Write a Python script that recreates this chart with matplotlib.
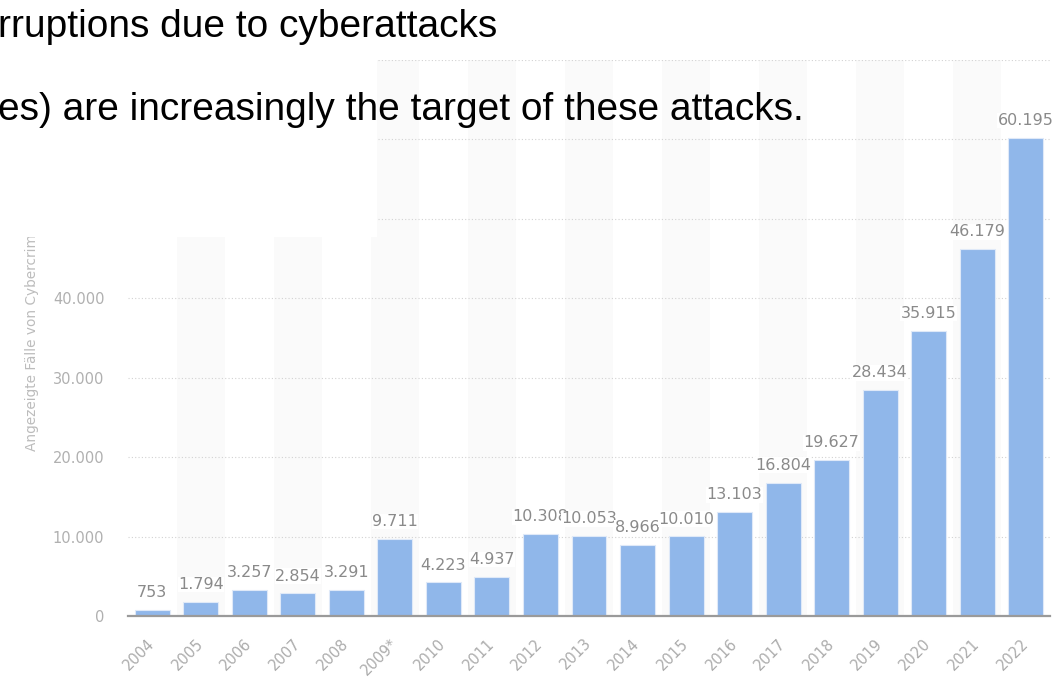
import matplotlib.pyplot as plt
from matplotlib.patches import Rectangle

# Data
years = ["2004", "2005", "2006", "2007", "2008", "2009*", "2010", "2011", "2012",
         "2013", "2014", "2015", "2016", "2017", "2018", "2019", "2020", "2021", "2022"]
cases = [753, 1794, 3257, 2854, 3291, 9711, 4223, 4937, 10308,
         10053, 8966, 10010, 13103, 16804, 19627, 28434, 35915, 46179, 60195]
yticks = [0, 10000, 20000, 30000, 40000, 50000, 60000, 70000]

def de_fmt(v):
    return f"{v:,}".replace(",", ".")

W, H = 1063, 677
fig = plt.figure(figsize=(W / 100, H / 100), dpi=100)
ax = fig.add_axes([128 / W, 61 / H, 922 / W, 556 / H])

x = list(range(len(years)))

# alternating light bands behind every second year
for i in x:
    if i % 2 == 1:
        ax.axvspan(i - 0.5, i + 0.5, color="#fafafa", zorder=0, lw=0)

bars = ax.bar(x, cases, width=0.72, color="#90b7ea", edgecolor="#dfe9f8",
              linewidth=0.8, zorder=3)
# white label boxes: later labels cover earlier ones where they touch
ax.bar_label(bars, labels=[de_fmt(v) for v in cases], padding=7, fontsize=11.5,
             color="#8a8a8a",
             bbox=dict(facecolor="white", edgecolor="none", pad=0.2))

ax.set_xlim(-0.5, 18.5)
ax.set_ylim(0, 70000)
ax.set_yticks(yticks)
ax.set_yticklabels([de_fmt(v) for v in yticks])
ax.set_xticks(x)
ax.set_xticklabels(years, rotation=45, ha="right", va="center", rotation_mode="anchor")

ax.yaxis.grid(True, linestyle=(0, (1, 2)), color="#d2d2d2", linewidth=0.8, zorder=1)
ax.set_axisbelow(True)
for s in ["top", "right", "left"]:
    ax.spines[s].set_visible(False)
ax.spines["bottom"].set_color("#9a9a9a")
ax.spines["bottom"].set_linewidth(1.6)
ax.spines["bottom"].set_zorder(4)

ax.tick_params(axis="y", length=0, pad=17, labelsize=10.5, labelcolor="#b0b0b0")
ax.tick_params(axis="x", length=0, pad=18, labelsize=10.5, labelcolor="#acacac")

ax.set_ylabel("Angezeigte Fälle von Cybercrime", fontsize=9.8, color="#bcbcbc")
ax.yaxis.set_label_coords(-0.104, 0.5)
ax.yaxis.label.set_verticalalignment("center")

# slide text box covering the top-left of the chart
fig.patches.append(Rectangle((0, 1 - 237 / H), 377 / W, 237 / H,
                             transform=fig.transFigure, facecolor="white",
                             edgecolor="none", zorder=5))
fig.text(-0.002, 1 - 37 / H, "rruptions due to cyberattacks", fontsize=28,
         family="Liberation Sans", color="black", va="baseline", zorder=6)
fig.text(-0.002, 1 - 120 / H, "es) are increasingly the target of these attacks.",
         fontsize=28, family="Liberation Sans", color="black", va="baseline", zorder=6)

fig.savefig("out.png", dpi=100)
